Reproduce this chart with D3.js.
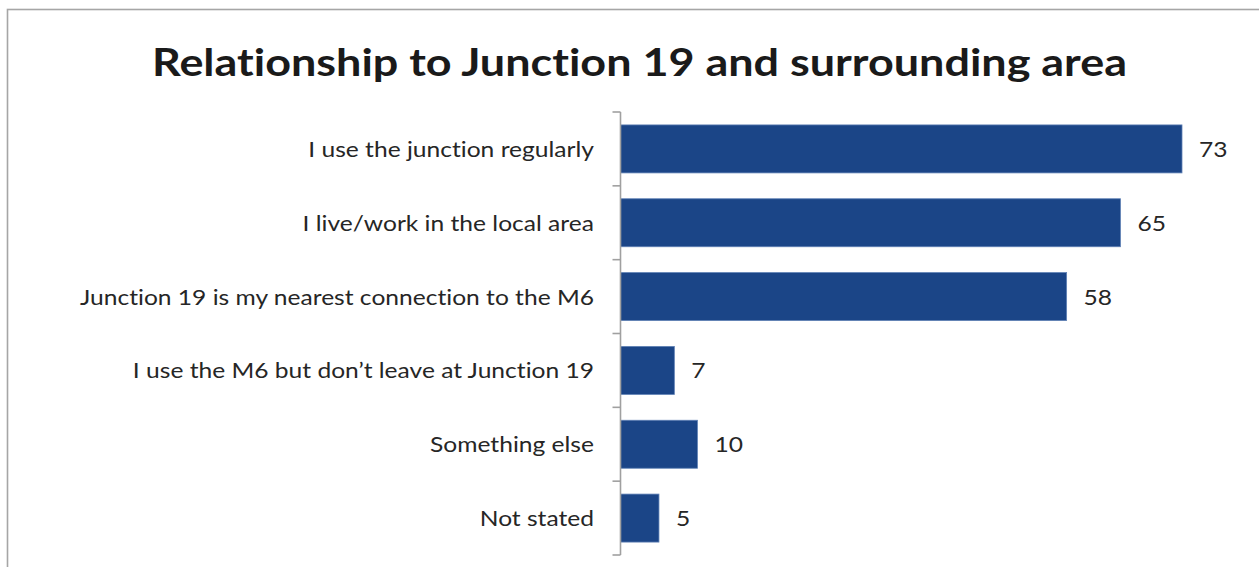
<!DOCTYPE html>
<html>
<head>
<meta charset="utf-8">
<script src="https://cdn.jsdelivr.net/npm/d3@7"></script>
<style>
  html, body { margin: 0; padding: 0; background: #fff; }
  svg { display: block; }
  text { font-family: Lato, "Open Sans", sans-serif; fill: #262626; font-variant-ligatures: none; font-feature-settings: "liga" 0; }
</style>
</head>
<body>
<svg id="chart" width="1259" height="567"></svg>
<script>
// Survey responses: relationship to Junction 19
const categories = [
  "I use the junction regularly",
  "I live/work in the local area",
  "Junction 19 is my nearest connection to the M6",
  "I use the M6 but don\u2019t leave at Junction 19",
  "Something else",
  "Not stated"
];
const values = [73, 65, 58, 7, 10, 5];
const title = "Relationship to Junction 19 and surrounding area";

const svg = d3.select("#chart");
const W = 1259, H = 567;

// outer chart frame
svg.append("rect")
  .attr("x", 7.5).attr("y", 9.5)
  .attr("width", W + 20).attr("height", H + 20)
  .attr("fill", "#fff")
  .attr("stroke", "#a6a6a6").attr("stroke-width", 1.6);

const axisX = 620.5;
const x = d3.scaleLinear().domain([0, 73]).range([axisX, 1182]);
const y = d3.scaleBand().domain(categories).range([112, 555])
  .paddingInner(0.35).paddingOuter(0.175);

// title, fitted to its width
const t = svg.append("text")
  .attr("x", 639.5).attr("y", 76)
  .attr("text-anchor", "middle")
  .style("font-size", "38px").style("font-weight", 700)
  .style("fill", "#1a1a1a")
  .text(title);
t.attr("textLength", 975).attr("lengthAdjust", "spacingAndGlyphs");

// bars
svg.append("g").selectAll("rect")
  .data(values)
  .join("rect")
  .attr("x", axisX)
  .attr("y", (d, i) => y(categories[i]))
  .attr("width", d => x(d) - axisX)
  .attr("height", y.bandwidth())
  .attr("fill", "#1b4587")
  .attr("stroke", "#5f80b5").attr("stroke-width", 0.8);

// category axis
const axisG = svg.append("g").attr("stroke", "#a0a0a0").attr("stroke-width", 1.6);
axisG.append("line")
  .attr("x1", axisX).attr("x2", axisX)
  .attr("y1", y.range()[0]).attr("y2", y.range()[1]);
const half = y.step() * y.paddingInner() / 2;
const bounds = categories.map(c => y(c) - half).concat([y(categories[categories.length - 1]) + y.bandwidth() + half]);
bounds[0] = y.range()[0];
bounds[bounds.length - 1] = y.range()[1];
axisG.selectAll("line.tick")
  .data(bounds)
  .join("line").attr("class", "tick")
  .attr("x1", axisX - 8).attr("x2", axisX)
  .attr("y1", d => d).attr("y2", d => d);

// category labels, condensed uniformly
const fs = 22;
const labels = svg.append("g").selectAll("text")
  .data(categories)
  .join("text")
  .attr("x", 594)
  .attr("y", d => y(d) + y.bandwidth() / 2)
  .attr("dy", "0.36em")
  .attr("text-anchor", "end")
  .style("font-size", fs + "px")
  .text(d => d);
const longest = labels.nodes()[2].getComputedTextLength();
const k = 514 / longest;
labels.each(function () {
  const w = this.getComputedTextLength();
  d3.select(this).attr("textLength", w * k).attr("lengthAdjust", "spacingAndGlyphs");
});

// value labels
svg.append("g").selectAll("text")
  .data(values)
  .join("text")
  .attr("x", d => x(d) + 17)
  .attr("y", (d, i) => y(categories[i]) + y.bandwidth() / 2)
  .attr("dy", "0.36em")
  .style("font-size", fs + "px")
  .text(d => d)
  .each(function () {
    const w = this.getComputedTextLength();
    d3.select(this).attr("textLength", w * k).attr("lengthAdjust", "spacingAndGlyphs");
  });
</script>
</body>
</html>
